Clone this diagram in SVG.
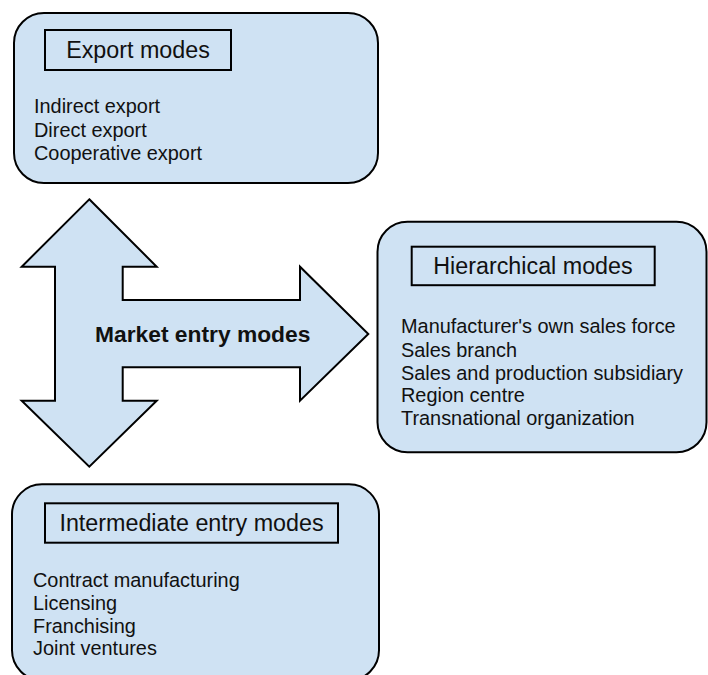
<svg xmlns="http://www.w3.org/2000/svg" width="708" height="675" viewBox="0 0 708 675">
  <style>
    .panel { fill: #cfe2f3; stroke: #000; stroke-width: 2; }
    .label-box { fill: none; stroke: #000; stroke-width: 2; }
    .head { font-family: "Liberation Sans", Arial, sans-serif; font-size: 23.3px; fill: #111; text-anchor: middle; }
    .item { font-family: "Liberation Sans", Arial, sans-serif; font-size: 19.9px; fill: #111; }
    .center { font-family: "Liberation Sans", Arial, sans-serif; font-size: 22.8px; font-weight: bold; fill: #111; }
  </style>
  <rect width="708" height="675" fill="#fff"/>

  <!-- connectors: three-way arrow from the centre -->
  <g id="connectors">
    <path class="panel" stroke-linejoin="miter" d="M89.3,199.3 L156.7,266.7 L122.7,266.7 L122.7,300 L300,300 L300,266.7 L368.3,334 L300,400.7 L300,367.3 L122.7,367.3 L122.7,400.7 L156.7,400.7 L89.3,466.7 L21.7,400.7 L55,400.7 L55,266.7 L21.7,266.7 Z"/>
    <text class="center" x="95" y="341.7">Market entry modes</text>
  </g>

  <g id="export-modes">
    <rect class="panel" x="14" y="13" width="364" height="170" rx="30" ry="30"/>
    <rect class="label-box" x="45" y="30" width="186" height="40"/>
    <text class="head" x="138" y="57.8">Export modes</text>
    <text class="item" x="34" y="113.3">Indirect export</text>
    <text class="item" x="34" y="136.5">Direct export</text>
    <text class="item" x="34" y="159.5">Cooperative export</text>
  </g>

  <g id="hierarchical-modes">
    <rect class="panel" x="377.5" y="221.7" width="329" height="230.6" rx="30" ry="30"/>
    <rect class="label-box" x="411.7" y="246.7" width="243" height="38.5"/>
    <text class="head" x="533" y="273.6">Hierarchical modes</text>
    <text class="item" x="401" y="333.3">Manufacturer's own sales force</text>
    <text class="item" x="401" y="356.6">Sales branch</text>
    <text class="item" x="401" y="379.8">Sales and production subsidiary</text>
    <text class="item" x="401" y="402.2">Region centre</text>
    <text class="item" x="401" y="425">Transnational organization</text>
  </g>

  <g id="intermediate-entry-modes">
    <rect class="panel" x="12" y="484.3" width="367" height="196" rx="30" ry="30"/>
    <rect class="label-box" x="45" y="503.3" width="293" height="39.4"/>
    <text class="head" x="191.5" y="531.3">Intermediate entry modes</text>
    <text class="item" x="33" y="586.7">Contract manufacturing</text>
    <text class="item" x="33" y="609.5">Licensing</text>
    <text class="item" x="33" y="632.5">Franchising</text>
    <text class="item" x="33" y="655">Joint ventures</text>
  </g>
</svg>
